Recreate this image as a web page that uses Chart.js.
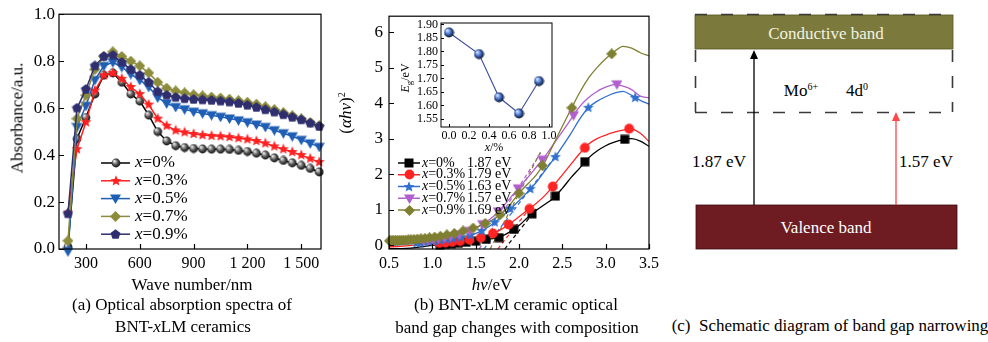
<!DOCTYPE html>
<html>
<head>
<meta charset="utf-8">
<script src="https://cdn.jsdelivr.net/npm/chart.js@4.4.1/dist/chart.umd.min.js"></script>
<style>
  body { margin: 0; width: 988px; height: 342px; background: #fff; position: relative; overflow: hidden;
         font-family: "Liberation Serif", "Times New Roman", serif; color: #000; }
  canvas, .box { position: absolute; }
  .lbl { position: absolute; white-space: nowrap; line-height: 1; font-size: 17px; transform: translate(-50%, -50%); }
  .rot { transform: translate(-50%, -50%) rotate(-90deg); }
  .sm { font-size: 12px; }
  i { font-style: italic; }
  sup { font-size: 10px; vertical-align: 6px; line-height: 0; }
  sub { font-size: 9px; vertical-align: -3px; line-height: 0; }
</style>
</head>
<body>
<canvas id="absChart" width="330" height="275" style="left:0;top:0"></canvas>
<div class="box" style="left:330px;top:0;width:330px;height:275px;overflow:hidden">
  <canvas id="gapChart" width="345" height="275" style="left:0;top:0"></canvas>
</div>
<canvas id="egChart" width="165" height="145" style="left:395px;top:12px"></canvas>

<!-- axis titles and captions -->
<div class="lbl rot" style="left:17px;top:118px">Absorbance/a.u.</div>
<div class="lbl" style="left:192px;top:284px">Wave number/nm</div>
<div class="lbl" style="left:182px;top:304px">(a) Optical absorption spectra of</div>
<div class="lbl" style="left:183px;top:326px">BNT-<i>x</i>LM ceramics</div>

<div class="lbl rot" style="left:345px;top:113px">(<i>αhν</i>)<sup>2</sup></div>
<div class="lbl" style="left:492px;top:284px"><i>hν</i>/eV</div>
<div class="lbl sm rot" style="left:405px;top:78px"><i>E</i><sub>g</sub>/eV</div>
<div class="lbl sm" style="left:494px;top:147px"><i>x</i>/%</div>
<div class="lbl" style="left:516px;top:304px">(b) BNT-<i>x</i>LM ceramic optical</div>
<div class="lbl" style="left:517px;top:327px">band gap changes with composition</div>

<!-- band diagram -->
<svg class="box" style="left:660px;top:0" width="328" height="342">
  <rect x="35" y="15" width="258" height="34" fill="#7b7a3c" stroke="#55551f" stroke-width="0.8"/>
  <rect x="36" y="205" width="261" height="44" fill="#6e1c22" stroke="#3a0c10" stroke-width="0.8"/>
  <path d="M35 14.5H293 M35.5 50V112 M292.5 50V112 M35 112.5H293" stroke="#3a3a3a" stroke-width="1.6" stroke-dasharray="12 14" fill="none"/>
  <line x1="94" y1="205" x2="94" y2="57" stroke="#000" stroke-width="1.3"/>
  <path d="M94 50 L90 59 L98 59 Z" fill="#000"/>
  <line x1="236" y1="205" x2="236" y2="119" stroke="#ff4545" stroke-width="1.3"/>
  <path d="M236 112 L232 121 L240 121 Z" fill="#ff4545"/>
</svg>
<div class="lbl" style="left:826px;top:33px;color:#f2f2e2">Conductive band</div>
<div class="lbl" style="left:801px;top:90px">Mo<sup>6+</sup></div>
<div class="lbl" style="left:857px;top:90px">4d<sup>0</sup></div>
<div class="lbl" style="left:719px;top:161px">1.87 eV</div>
<div class="lbl" style="left:926px;top:161px">1.57 eV</div>
<div class="lbl" style="left:826px;top:227px;color:#fff">Valence band</div>
<div class="lbl" style="left:830px;top:325px">(c)&nbsp; Schematic diagram of band gap narrowing</div>

<script>
const serif = '"Liberation Serif", "Times New Roman", serif';

// (a) absorption spectra, one value every 50 nm
const waveNm = [200, 250, 300, 350, 400, 450, 500, 550, 600, 650, 700, 750, 800, 850, 900,
  950, 1000, 1050, 1100, 1150, 1200, 1250, 1300, 1350, 1400, 1450, 1500, 1550, 1600];
const abs0 = [0.01, 0.47, 0.56, 0.66, 0.74, 0.75, 0.71, 0.66, 0.63, 0.57, 0.50, 0.46, 0.44, 0.432, 0.428,
  0.426, 0.425, 0.425, 0.424, 0.42, 0.415, 0.408, 0.40, 0.388, 0.377, 0.367, 0.356, 0.343, 0.328];
const abs03 = [0.155, 0.425, 0.54, 0.675, 0.74, 0.75, 0.725, 0.69, 0.66, 0.615, 0.555, 0.525, 0.505, 0.497, 0.49,
  0.485, 0.482, 0.48, 0.477, 0.472, 0.467, 0.46, 0.45, 0.437, 0.425, 0.413, 0.40, 0.385, 0.37];
const abs05 = [-0.01, 0.52, 0.61, 0.72, 0.78, 0.795, 0.775, 0.745, 0.72, 0.69, 0.645, 0.62, 0.605, 0.595, 0.585,
  0.578, 0.57, 0.563, 0.556, 0.548, 0.54, 0.53, 0.52, 0.506, 0.493, 0.48, 0.465, 0.45, 0.435];
const abs07 = [0.035, 0.555, 0.655, 0.765, 0.82, 0.84, 0.82, 0.80, 0.78, 0.75, 0.71, 0.685, 0.673, 0.665, 0.657,
  0.652, 0.647, 0.643, 0.638, 0.632, 0.625, 0.617, 0.606, 0.594, 0.581, 0.568, 0.554, 0.539, 0.525];
const abs09 = [0.15, 0.60, 0.68, 0.78, 0.82, 0.825, 0.795, 0.765, 0.74, 0.71, 0.67, 0.655, 0.646, 0.64, 0.637,
  0.635, 0.633, 0.63, 0.626, 0.62, 0.612, 0.603, 0.593, 0.583, 0.572, 0.561, 0.55, 0.536, 0.522];
const waveTicks = [300, 600, 900, 1200, 1500];
const absTicks = [0, 0.2, 0.4, 0.6, 0.8, 1.0];
const dopingPct = ['0', '0.3', '0.5', '0.7', '0.9'];

// (b) Tauc curves, sampled every 0.1 eV
const photonE = [0.5, 0.6, 0.7, 0.8, 0.9, 1.0, 1.1, 1.2, 1.3, 1.4, 1.5, 1.6, 1.7, 1.8, 1.9, 2.0,
  2.1, 2.2, 2.3, 2.4, 2.5, 2.6, 2.7, 2.8, 2.9, 3.0, 3.1, 3.2, 3.3, 3.4, 3.5];
const tauc0 = [-0.1, -0.1, -0.09, -0.07, -0.04, -0.01, 0.01, 0.03, 0.05, 0.08, 0.11, 0.15, 0.18, 0.25, 0.38, 0.55,
  0.78, 0.98, 1.15, 1.33, 1.6, 1.9, 2.17, 2.45, 2.65, 2.8, 2.9, 2.97, 3.0, 2.93, 2.78];
const tauc03 = [-0.05, -0.04, -0.02, 0.0, 0.02, 0.04, 0.06, 0.08, 0.11, 0.14, 0.19, 0.23, 0.33, 0.45, 0.61, 0.8,
  0.99, 1.18, 1.4, 1.68, 1.98, 2.28, 2.58, 2.84, 3.0, 3.1, 3.18, 3.24, 3.27, 3.15, 2.92];
const tauc05 = [0.0, 0.01, 0.03, 0.05, 0.08, 0.11, 0.14, 0.17, 0.21, 0.26, 0.33, 0.44, 0.6, 0.8, 1.02, 1.25,
  1.5, 1.77, 2.1, 2.42, 2.78, 3.15, 3.55, 3.87, 4.05, 4.18, 4.28, 4.33, 4.22, 4.08, 3.97];
const tauc07 = [0.05, 0.06, 0.08, 0.1, 0.13, 0.16, 0.2, 0.24, 0.3, 0.37, 0.48, 0.62, 0.8, 1.05, 1.33, 1.62,
  1.9, 2.2, 2.5, 2.85, 3.2, 3.55, 3.9, 4.15, 4.33, 4.45, 4.52, 4.48, 4.38, 4.2, 4.15];
const tauc09 = [0.12, 0.13, 0.14, 0.16, 0.19, 0.22, 0.26, 0.3, 0.36, 0.43, 0.5, 0.6, 0.72, 0.88, 1.15, 1.46,
  1.72, 1.98, 2.35, 2.85, 3.35, 3.83, 4.3, 4.7, 5.0, 5.25, 5.45, 5.6, 5.55, 5.42, 5.33];

// measured points carrying the symbols, [eV, value]
const mark0 = [[1.09, 0.0], [1.15, 0.02], [1.22, 0.035], [1.30, 0.05], [1.39, 0.08], [1.50, 0.11], [1.62, 0.16],
  [1.77, 0.21], [1.94, 0.44], [2.15, 0.88], [2.42, 1.38], [2.76, 2.35], [3.22, 2.98]];
const mark03 = [[1.08, 0.06], [1.15, 0.07], [1.23, 0.09], [1.32, 0.115], [1.43, 0.15], [1.56, 0.21], [1.70, 0.33],
  [1.88, 0.58], [2.12, 1.02], [2.39, 1.65], [2.76, 2.74], [3.27, 3.28]];
const mark05 = [[0.82, 0.055], [0.86, 0.065], [0.91, 0.08], [0.96, 0.095], [1.02, 0.115], [1.09, 0.135],
  [1.16, 0.16], [1.24, 0.185], [1.33, 0.22], [1.44, 0.28], [1.57, 0.40], [1.72, 0.64], [1.90, 1.02],
  [2.13, 1.58], [2.42, 2.48], [2.80, 3.87], [3.34, 4.15]];
const mark07 = [[0.90, 0.13], [0.95, 0.145], [1.01, 0.165], [1.07, 0.19], [1.14, 0.215], [1.21, 0.245],
  [1.31, 0.30], [1.43, 0.40], [1.58, 0.59], [1.76, 0.95], [1.99, 1.6], [2.27, 2.41], [2.63, 3.66], [3.13, 4.53]];
const mark09 = [[0.506, 0.12], [0.522, 0.12], [0.538, 0.125], [0.556, 0.125], [0.575, 0.13], [0.595, 0.13],
  [0.617, 0.135], [0.640, 0.135], [0.665, 0.14], [0.692, 0.14], [0.721, 0.15], [0.753, 0.155], [0.788, 0.16],
  [0.827, 0.17], [0.869, 0.18], [0.916, 0.19], [0.968, 0.21], [1.027, 0.225], [1.093, 0.25], [1.168, 0.29],
  [1.254, 0.33], [1.354, 0.40], [1.47, 0.48], [1.61, 0.61], [1.78, 0.85], [2.0, 1.46], [2.27, 2.24],
  [2.61, 3.87], [3.07, 5.39]];

// band gaps (inset + legend), and the two ends of each fitted tangent
const dopingX = [0, 0.3, 0.5, 0.7, 0.9];
const bandGap = [1.87, 1.79, 1.63, 1.57, 1.69];
const tangentTop = [[2.2, 1.02], [2.1, 0.96], [2.45, 2.6], [2.25, 2.6], [2.25, 2.63]];
const tangentFoot = [[1.835, -0.11], [1.755, -0.11], [1.595, -0.11], [1.541, -0.11], [1.667, -0.11]];
const gapTicksX = [0.5, 1.0, 1.5, 2.0, 2.5, 3.0, 3.5];
const gapTicksY = [0, 1, 2, 3, 4, 5, 6];
const egTicksX = [0, 0.2, 0.4, 0.6, 0.8, 1.0];
const egTicksY = [1.55, 1.60, 1.65, 1.70, 1.75, 1.80, 1.85, 1.90];

// symbol sprites, drawn once and reused as pointStyle
function mark(shape, fill, size, hi) {
  const c = document.createElement('canvas');
  c.width = c.height = size;
  const g = c.getContext('2d');
  const r = size / 2;
  g.translate(r, r);
  g.beginPath();
  if (shape === 'ball' || shape === 'circle') g.arc(0, 0, r - 0.6, 0, Math.PI * 2);
  else if (shape === 'square') g.rect(-r + 0.5, -r + 0.5, size - 1, size - 1);
  else if (shape === 'diamond') { g.moveTo(0, -r); g.lineTo(r, 0); g.lineTo(0, r); g.lineTo(-r, 0); }
  else if (shape === 'tri') { g.moveTo(-r, -r * 0.75); g.lineTo(r, -r * 0.75); g.lineTo(0, r); }
  else {
    const n = shape === 'star' ? 10 : 5;
    for (let k = 0; k < n; k++) {
      const a = -Math.PI / 2 + k * 2 * Math.PI / n;
      const rr = shape === 'star' && k % 2 ? r * 0.42 : r - 0.3;
      g.lineTo(rr * Math.cos(a), rr * Math.sin(a));
    }
  }
  g.closePath();
  if (shape === 'ball') {
    const grd = g.createRadialGradient(-r * 0.35, -r * 0.4, 0.5, 0, 0, r);
    grd.addColorStop(0, hi); grd.addColorStop(0.5, fill); grd.addColorStop(1, '#000');
    g.fillStyle = grd;
  } else g.fillStyle = fill;
  g.fill();
  return c;
}

const colA = ['#000000', '#ff2020', '#1f5eb5', '#8c8c3c', '#2f2f70'];
const symA = [mark('ball', '#555', 10, '#e8e8e8'), mark('star', '#ff2020', 12), mark('tri', '#1f5eb5', 11),
  mark('diamond', '#8c8c3c', 11), mark('pent', '#2f2f70', 11)];
const colB = ['#000000', '#ff2424', '#2f6fcf', '#b060cc', '#7f7f32'];
const symB = [mark('square', '#000', 10), mark('circle', '#ff2424', 11), mark('star', '#2f6fcf', 12),
  mark('tri', '#b060cc', 11), mark('diamond', '#7f7f32', 11)];

const fmtNm = v => v >= 1000 ? Math.floor(v / 1000) + ' ' + String(v % 1000).padStart(3, '0') : String(v);
const xy = (xs, ys) => xs.map((x, i) => ({ x, y: ys[i] }));
const pairs = arr => arr.map(p => ({ x: p[0], y: p[1] }));

// box around the plot area with short inward ticks
const framePlugin = {
  id: 'frame',
  afterDraw(chart, args, o) {
    const { ctx, chartArea: a, scales } = chart;
    ctx.save();
    ctx.strokeStyle = '#000';
    ctx.lineWidth = o.lw;
    ctx.strokeRect(a.left, a.top, a.right - a.left, a.bottom - a.top);
    ctx.beginPath();
    scales.x.ticks.forEach(t => {
      const px = Math.round(scales.x.getPixelForValue(t.value)) + 0.5;
      ctx.moveTo(px, a.bottom); ctx.lineTo(px, a.bottom - o.len);
    });
    scales.y.ticks.forEach(t => {
      const py = Math.round(scales.y.getPixelForValue(t.value)) + 0.5;
      ctx.moveTo(a.left, py); ctx.lineTo(a.left + o.len, py);
    });
    ctx.stroke();
    ctx.restore();
  }
};

// legend block drawn inside the plot
const keyPlugin = {
  id: 'key',
  afterDraw(chart, args, o) {
    if (!o.rows) return;
    const ctx = chart.ctx;
    ctx.save();
    ctx.textBaseline = 'middle';
    o.rows.forEach((row, i) => {
      const y = o.y + i * o.gap;
      ctx.strokeStyle = row.color;
      ctx.lineWidth = 1.5;
      ctx.beginPath(); ctx.moveTo(o.x, y); ctx.lineTo(o.x + o.len, y); ctx.stroke();
      ctx.drawImage(row.sym, Math.round(o.x + o.len / 2 - row.sym.width / 2), Math.round(y - row.sym.height / 2));
      ctx.fillStyle = '#000';
      ctx.font = 'italic ' + o.font;
      ctx.fillText('x', o.tx, y);
      const w = ctx.measureText('x').width;
      ctx.font = o.font;
      ctx.fillText(row.text, o.tx + w, y);
      if (row.extra) ctx.fillText(row.extra, o.gx, y);
    });
    ctx.restore();
  }
};

function axisFont(size) { return { family: serif, size }; }

// ---------- (a) ----------
const absSeries = [abs0, abs03, abs05, abs07, abs09];
new Chart(document.getElementById('absChart'), {
  type: 'line',
  data: {
    datasets: absSeries.map((ys, i) => ({
      data: xy(waveNm, ys),
      borderColor: colA[i],
      borderWidth: 1.5,
      pointStyle: symA[i],
      clip: false,
      tension: 0
    })).reverse()
  },
  options: {
    responsive: false, animation: false, events: [],
    layout: { padding: { top: 13, right: 9, left: 0, bottom: 0 } },
    plugins: {
      legend: { display: false }, tooltip: { enabled: false },
      frame: { lw: 1.2, len: 5 },
      key: {
        x: 101, y: 163, gap: 17.8, len: 29, tx: 135, font: '17px ' + serif,
        rows: dopingPct.map((p, i) => ({ color: colA[i], sym: symA[i], text: '=' + p + '%' }))
      }
    },
    scales: {
      x: {
        type: 'linear', min: 150, max: 1610,
        grid: { display: false, drawTicks: false }, border: { display: false },
        afterBuildTicks: s => { s.ticks = waveTicks.map(v => ({ value: v })); },
        afterFit: s => { s.height = 26; },
        ticks: { font: axisFont(16), color: '#000', padding: 5, maxRotation: 0, autoSkip: false, callback: fmtNm }
      },
      y: {
        min: 0, max: 1,
        grid: { display: false, drawTicks: false }, border: { display: false },
        afterBuildTicks: s => { s.ticks = absTicks.map(v => ({ value: v })); },
        afterFit: s => { s.width = 59; },
        ticks: { font: axisFont(17), color: '#000', padding: 4, autoSkip: false, callback: v => v.toFixed(1) }
      }
    }
  },
  plugins: [keyPlugin, framePlugin]
});

// ---------- (b) ----------
const taucSeries = [tauc0, tauc03, tauc05, tauc07, tauc09];
const markSeries = [mark0, mark03, mark05, mark07, mark09];
const order = [4, 3, 2, 1, 0];
const gapSets = [];
order.forEach(i => gapSets.push({
  data: pairs(markSeries[i]), showLine: false, pointStyle: symB[i], clip: false
}));
order.forEach(i => gapSets.push({
  data: xy(photonE, taucSeries[i]), borderColor: colB[i], borderWidth: 1.3,
  pointRadius: 0, cubicInterpolationMode: 'monotone'
}));
order.forEach(i => gapSets.push({
  data: [pairs([tangentFoot[i]])[0], { x: bandGap[i], y: 0 }, pairs([tangentTop[i]])[0]],
  borderColor: colB[i], borderWidth: 1.2, borderDash: [4, 3], pointRadius: 0
}));

new Chart(document.getElementById('gapChart'), {
  type: 'line',
  data: { datasets: gapSets },
  options: {
    responsive: false, animation: false, events: [],
    layout: { padding: { top: 13, right: 26, left: 0, bottom: 0 } },
    plugins: {
      legend: { display: false }, tooltip: { enabled: false },
      frame: { lw: 1.2, len: 5 },
      key: {
        x: 68, y: 163, gap: 11.75, len: 22, tx: 92, gx: 137, font: '14px ' + serif,
        rows: dopingPct.map((p, i) => ({
          color: colB[i], sym: symB[i], text: '=' + p + '%', extra: bandGap[i].toFixed(2) + ' eV'
        }))
      }
    },
    scales: {
      x: {
        type: 'linear', min: 0.5, max: 3.5,
        grid: { display: false, drawTicks: false }, border: { display: false },
        afterBuildTicks: s => { s.ticks = gapTicksX.map(v => ({ value: v })); },
        afterFit: s => { s.height = 26; },
        ticks: { font: axisFont(16), color: '#000', padding: 5, maxRotation: 0, autoSkip: false, callback: v => v.toFixed(1) }
      },
      y: {
        min: -0.11, max: 6.45,
        grid: { display: false, drawTicks: false }, border: { display: false },
        afterBuildTicks: s => { s.ticks = gapTicksY.map(v => ({ value: v })); },
        afterFit: s => { s.width = 59; },
        ticks: { font: axisFont(17), color: '#000', padding: 6, autoSkip: false, callback: v => String(v) }
      }
    }
  },
  plugins: [keyPlugin, framePlugin]
});

// ---------- inset: Eg vs doping ----------
new Chart(document.getElementById('egChart'), {
  type: 'line',
  data: {
    datasets: [{
      data: xy(dopingX, bandGap),
      borderColor: '#3b4aa0', borderWidth: 1.1,
      pointStyle: mark('ball', '#3f6cc8', 11, '#d8e6ff'), clip: false, tension: 0
    }]
  },
  options: {
    responsive: false, animation: false, events: [],
    layout: { padding: { top: 11, right: 8, left: 0, bottom: 0 } },
    plugins: { legend: { display: false }, tooltip: { enabled: false }, frame: { lw: 1, len: 3 } },
    scales: {
      x: {
        type: 'linear', min: -0.08, max: 1.03,
        grid: { display: false, drawTicks: false }, border: { display: false },
        afterBuildTicks: s => { s.ticks = egTicksX.map(v => ({ value: v })); },
        afterFit: s => { s.height = 30; },
        ticks: { font: axisFont(12), color: '#000', padding: 2, maxRotation: 0, autoSkip: false, callback: v => v.toFixed(1) }
      },
      y: {
        min: 1.52, max: 1.905,
        grid: { display: false, drawTicks: false }, border: { display: false },
        afterBuildTicks: s => { s.ticks = egTicksY.map(v => ({ value: v })); },
        afterFit: s => { s.width = 46; },
        ticks: { font: axisFont(12), color: '#000', padding: 3, autoSkip: false, callback: v => v.toFixed(2) }
      }
    }
  },
  plugins: [framePlugin]
});
</script>
</body>
</html>
